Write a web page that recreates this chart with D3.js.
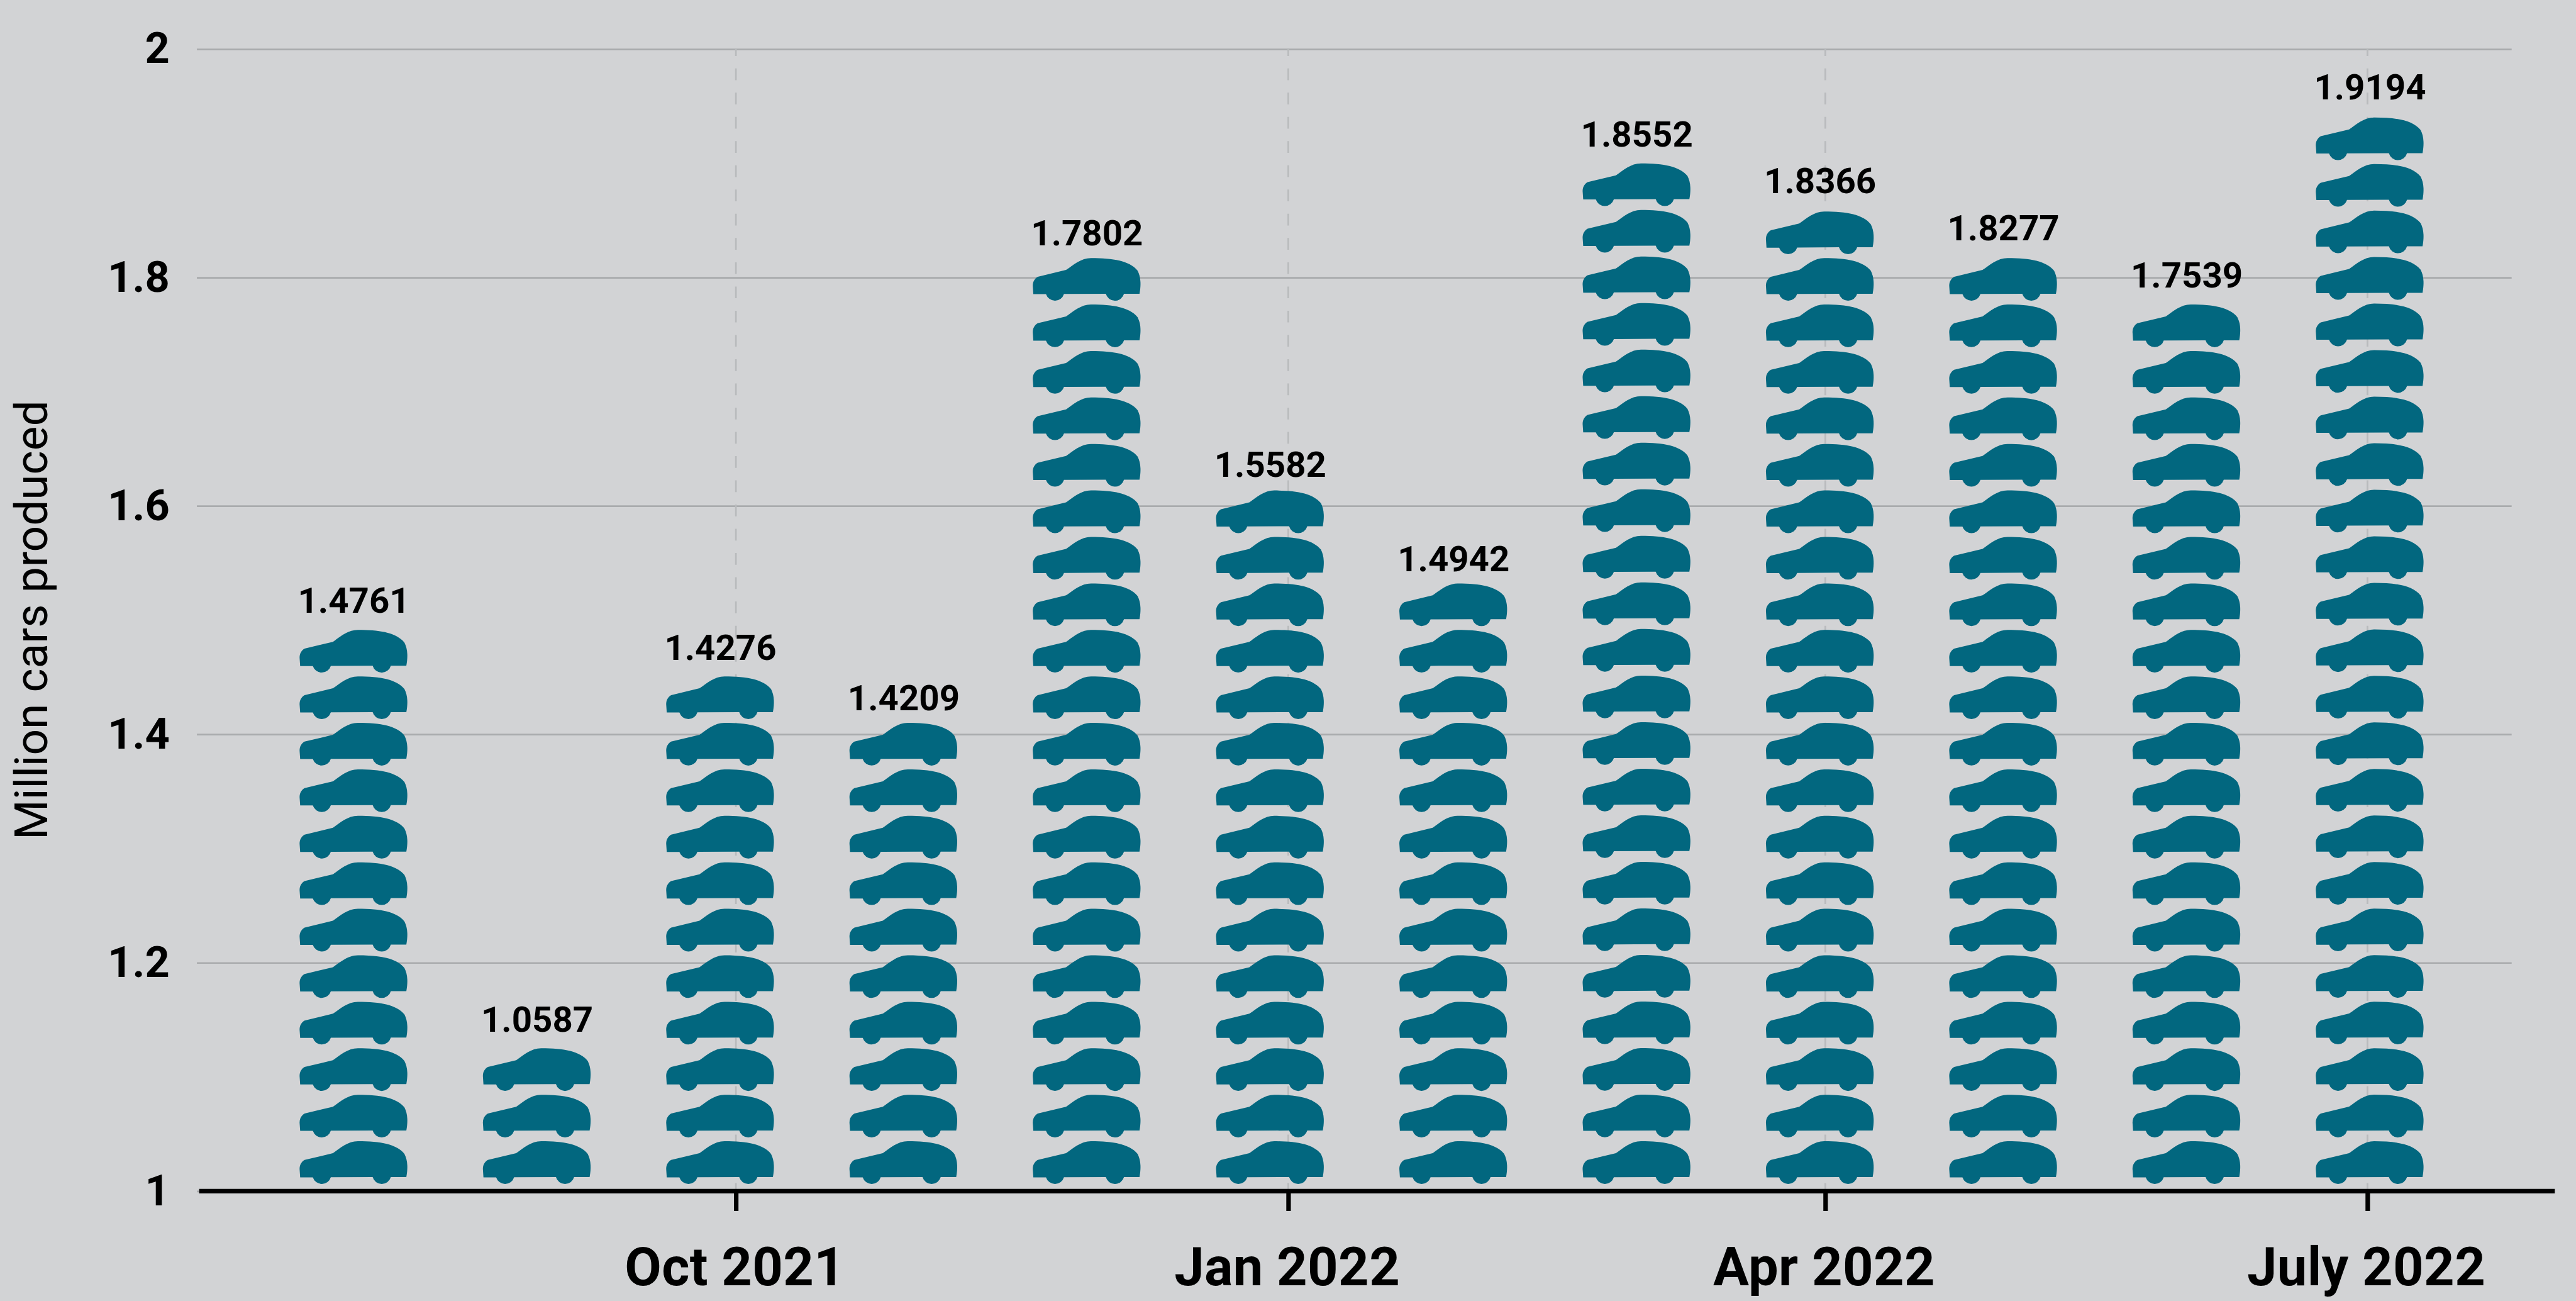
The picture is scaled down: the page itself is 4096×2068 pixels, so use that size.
<!DOCTYPE html>
<html>
<head>
<meta charset="utf-8">
<script src="https://cdn.jsdelivr.net/npm/d3@7"></script>
<style>
  html, body { margin: 0; padding: 0; background: #d2d3d5; overflow: hidden; }
  svg { display: block; }
</style>
</head>
<body>
<script>
// Monthly car production, Aug 2021 to July 2022 (million cars)
const months = ["2021-08", "2021-09", "2021-10", "2021-11", "2021-12", "2022-01",
                "2022-02", "2022-03", "2022-04", "2022-05", "2022-06", "2022-07"];
const production = [1.4761, 1.0587, 1.4276, 1.4209, 1.7802, 1.5582,
                    1.4942, 1.8552, 1.8366, 1.8277, 1.7539, 1.9194];
// Number of car icons stacked in each month's column
const carCounts = [12, 3, 11, 10, 20, 15, 13, 22, 21, 20, 19, 23];
// Axis units taken up by one icon in each column
const carUnits = [0.040706, 0.040706, 0.040706, 0.040706, 0.040706, 0.040706,
                  0.040706, 0.040776, 0.040706, 0.040706, 0.040706, 0.04075];

const yTicks = [1, 1.2, 1.4, 1.6, 1.8, 2];
const xTickDates = ["2021-10-01", "2022-01-01", "2022-04-01", "2022-07-01"];
const xTickLabels = ["Oct 2021", "Jan 2022", "Apr 2022", "July 2022"];

const W = 4537, H = 2291;
const svg = d3.select("body").append("svg")
  .attr("width", 4096).attr("height", 2068)
  .attr("viewBox", `0 0 ${W} ${H}`);

svg.append("rect").attr("width", W).attr("height", H).attr("fill", "#d2d3d5");

const y = d3.scaleLinear().domain([1, 2]).range([2097.5, 86.5]);
const parseDay = d3.utcParse("%Y-%m-%d");
const time = d3.scaleUtc()
  .domain(xTickDates.map(parseDay))
  .range([1296, 2269, 3215, 4170]);
const band = d3.scalePoint().domain(months).range([622.4, 4174]);

// Gridlines and value labels
const yAxis = svg.append("g")
  .attr("transform", "translate(346.5,0)")
  .call(d3.axisLeft(y).tickValues(yTicks).tickFormat(d3.format("~g"))
    .tickSize(-(4424 - 346.5)).tickPadding(48));
yAxis.select(".domain").remove();
yAxis.selectAll(".tick line").attr("stroke", "#a9abad").attr("stroke-width", 3);
yAxis.selectAll(".tick text")
  .attr("font-family", "Roboto").attr("font-weight", 700)
  .attr("font-size", 76).attr("fill", "#000");

// Dashed guides rising from each date tick, the first dash tucked under the axis
svg.append("g").selectAll("line").data(xTickDates).join("line")
  .attr("x1", d => time(parseDay(d))).attr("x2", d => time(parseDay(d)))
  .attr("y1", 2104).attr("y2", y(2))
  .attr("stroke", "#b9bbbd").attr("stroke-width", 3)
  .attr("stroke-dasharray", "20.7 21.97");

// Stacked car icons
const carPath = "M-94,-11.7 L-71.7,-11.7 A16.6,16.6 0 0 0 -40,-12 L33.7,-12.3 A16.6,16.6 0 0 0 65.7,-12.3 L93,-12.3 " +
  "C94.5,-20 95,-27 94.7,-33 C94.5,-41 92.5,-47 89.7,-53 C76,-70 48,-75.3 7.7,-75.3 " +
  "C-10,-75.3 -24,-63 -36.3,-54.3 L-86.3,-42.3 C-92.3,-38.5 -95,-33 -95,-26.3 Z";
const wheelLift = 12.5, carHeight = 75.3;
const carY = (i, k) => y(1 + k * carUnits[i]) - wheelLift;

const columns = svg.append("g").selectAll("g").data(months).join("g")
  .attr("transform", d => `translate(${band(d)},0)`);
columns.selectAll("path")
  .data((d, i) => d3.range(carCounts[i]).map(k => ({ i, k })))
  .join("path")
  .attr("d", carPath)
  .attr("fill", "#02677f")
  .attr("transform", c => `translate(0,${carY(c.i, c.k)})`);

// Value above each stack, with its own clearance over the top car
const labelGap = [30, 29, 29.3, 22, 22.6, 23.7, 21, 29, 32.7, 31, 29.7, 32.3];
columns.append("text")
  .attr("x", 0.5)
  .attr("text-anchor", "middle")
  .attr("y", (d, i) => carY(i, carCounts[i] - 1) - carHeight - labelGap[i])
  .attr("font-family", "Roboto").attr("font-weight", 700)
  .attr("font-size", 62.5).attr("fill", "#000")
  .text((d, i) => production[i]);

// Date axis
const xAxis = svg.append("g")
  .attr("transform", `translate(0,${y(1)})`)
  .call(d3.axisBottom(time).tickValues(xTickDates.map(parseDay))
    .tickFormat((d, i) => xTickLabels[i]).tickSize(35).tickPadding(64).tickSizeOuter(0));
xAxis.select(".domain").attr("d", "M350.5,0H4500").attr("stroke", "#000").attr("stroke-width", 8);
xAxis.selectAll(".tick line").attr("stroke", "#000").attr("stroke-width", 8);
xAxis.selectAll(".tick text")
  .attr("x", -2.5)
  .attr("font-family", "Roboto").attr("font-weight", 700)
  .attr("font-size", 94).attr("letter-spacing", 0.4).attr("fill", "#000");

// Vertical axis title
svg.append("text")
  .attr("transform", "translate(82.3,1092) rotate(-90)")
  .attr("text-anchor", "middle")
  .attr("font-family", "Roboto").attr("font-weight", 400)
  .attr("font-size", 81).attr("letter-spacing", -0.1).attr("fill", "#000")
  .text("Million cars produced");
</script>
</body>
</html>
